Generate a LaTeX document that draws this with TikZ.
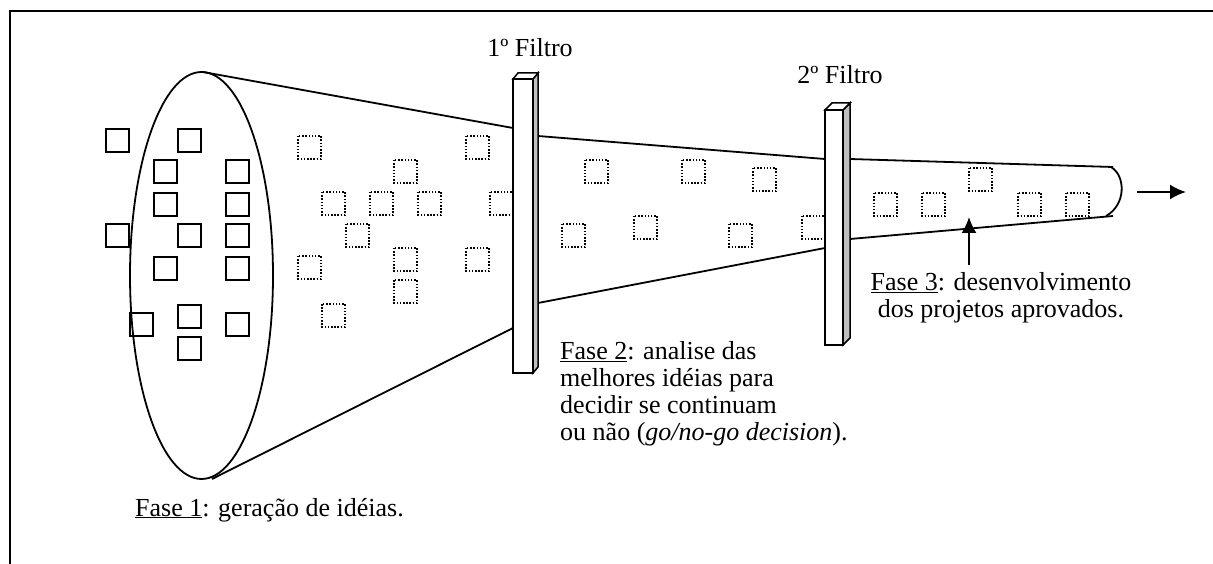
\documentclass[tikz,border=0pt]{standalone}
\usepackage{fontspec}
\setmainfont{Liberation Serif}
\usetikzlibrary{arrows.meta}

\definecolor{lateral}{rgb}{0.75,0.75,0.75}

\begin{document}
\begin{tikzpicture}[x=1pt, y=-1pt, font=\fontsize{26}{27}\selectfont,
        ideia/.style={line width=1.6pt},
        ideiaf/.style={line width=1.5pt, dash pattern=on 1.5pt off 1.7pt},
        funil/.style={line width=1.8pt},
        seta/.style={line width=2pt, -{Latex[length=16pt,width=15pt]}}] %funil
            \useasboundingbox (0,0) rectangle (1213,564);
            \draw[line width=2pt] (9.5,564) -- (9.5,11) -- (1213,11);

            % fase 1: ideias soltas
            \draw[funil] (201.5,275.5) ellipse [x radius=71.5, y radius=203.5];
            \draw[ideia] (106,129) rectangle ++(23,23);
            \draw[ideia] (178,129) rectangle ++(23,23);
            \draw[ideia] (154,160) rectangle ++(23,23);
            \draw[ideia] (226,160) rectangle ++(23,23);
            \draw[ideia] (154,193) rectangle ++(23,23);
            \draw[ideia] (226,193) rectangle ++(23,23);
            \draw[ideia] (106,224) rectangle ++(23,23);
            \draw[ideia] (178,224) rectangle ++(23,23);
            \draw[ideia] (226,224) rectangle ++(23,23);
            \draw[ideia] (154,257) rectangle ++(23,23);
            \draw[ideia] (226,257) rectangle ++(23,23);
            \draw[ideia] (130,313) rectangle ++(23,23);
            \draw[ideia] (178,305) rectangle ++(23,23);
            \draw[ideia] (226,313) rectangle ++(23,23);
            \draw[ideia] (178,337) rectangle ++(23,23);

            % ideias dentro do funil
            \draw[ideiaf] (298,136) rectangle ++(23,23);
            \draw[ideiaf] (466,136) rectangle ++(23,23);
            \draw[ideiaf] (394,160) rectangle ++(23,23);
            \draw[ideiaf] (322,192) rectangle ++(23,23);
            \draw[ideiaf] (370,192) rectangle ++(23,23);
            \draw[ideiaf] (418,192) rectangle ++(23,23);
            \draw[ideiaf] (490,192) rectangle ++(23,23);
            \draw[ideiaf] (346,224) rectangle ++(23,23);
            \draw[ideiaf] (298,256) rectangle ++(23,23);
            \draw[ideiaf] (394,248) rectangle ++(23,23);
            \draw[ideiaf] (466,248) rectangle ++(23,23);
            \draw[ideiaf] (394,280) rectangle ++(23,23);
            \draw[ideiaf] (322,304) rectangle ++(23,23);

            \draw[ideiaf] (585,160) rectangle ++(23,23);
            \draw[ideiaf] (682,160) rectangle ++(23,23);
            \draw[ideiaf] (753,168) rectangle ++(23,23);
            \draw[ideiaf] (562,224) rectangle ++(23,23);
            \draw[ideiaf] (634,216) rectangle ++(23,23);
            \draw[ideiaf] (729,224) rectangle ++(23,23);
            \draw[ideiaf] (802,216) rectangle ++(23,23);

            \draw[ideiaf] (874,193) rectangle ++(23,23);
            \draw[ideiaf] (922,193) rectangle ++(23,23);
            \draw[ideiaf] (969,168) rectangle ++(23,23);
            \draw[ideiaf] (1018,193) rectangle ++(23,23);
            \draw[ideiaf] (1066,193) rectangle ++(23,23);

            % paredes do funil
            \coordinate (topo) at (203,72);
            \coordinate (base) at (212,479);
            \draw[funil] (topo) -- (513,128);
            \draw[funil] (base) -- (513,328);
            \draw[funil] (538,136) -- (825,159);
            \draw[funil] (538,303) -- (825,248);
            \draw[funil] (850,159) -- (1113,167);
            \draw[funil] (850,239) -- (1113,216);
            \draw[funil] (1111,167) .. controls (1126,176) and (1126,205) .. (1106,216);

            % filtros
            \filldraw[fill=white, line width=1.5pt] (513,79) rectangle (533,373);
            \filldraw[fill=lateral, line width=1.5pt] (533,79) -- (538,73) -- (538,367) -- (533,373) -- cycle;
            \filldraw[fill=white, line width=1.5pt] (513,79) -- (518,73) -- (538,73) -- (533,79) -- cycle;
            \filldraw[fill=white, line width=1.5pt] (825,110) rectangle (843,345);
            \filldraw[fill=lateral, line width=1.5pt] (843,110) -- (850,103) -- (850,338) -- (843,345) -- cycle;
            \filldraw[fill=white, line width=1.5pt] (825,110) -- (832,103) -- (850,103) -- (843,110) -- cycle;

            % textos
            \node[anchor=base] (filtro1) at (530,57) {1º Filtro};
            \node[anchor=base] (filtro2) at (840,84) {2º Filtro};
            \node[anchor=base west, inner sep=0pt] (fase1) at (135,516) {\underline{Fase 1}: geração de idéias.};
            \node[anchor=north west, align=left, inner sep=0pt] (fase2) at (560,341)
                {\underline{Fase 2}: analise das\\melhores idéias para\\decidir se continuam\\ou não (\textit{go/no-go decision}).};
            \node[anchor=north, align=center, inner sep=0pt] (fase3) at (1001,272)
                {\underline{Fase 3}: desenvolvimento\\dos projetos aprovados.};

            % setas
            \coordinate (pe) at (969,265);
            \coordinate (alvo) at (969,217);
            \draw[seta] (pe) -- (alvo);
            \coordinate (saida0) at (1137,192);
            \coordinate (saida1) at (1186,192);
            \draw[seta] (saida0) -- (saida1);
        \end{tikzpicture}
\end{document}
